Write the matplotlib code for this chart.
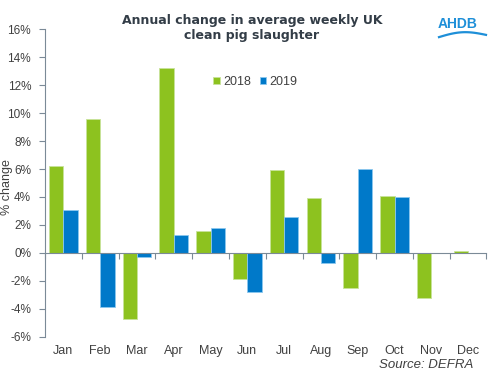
import matplotlib.pyplot as plt
import numpy as np
from matplotlib.transforms import blended_transform_factory

plt.rcParams['font.family'] = ['Liberation Sans', 'DejaVu Sans']

months = ["Jan", "Feb", "Mar", "Apr", "May", "Jun", "Jul", "Aug", "Sep", "Oct", "Nov", "Dec"]
y2018 = [6.2, 9.6, -4.7, 13.2, 1.6, -1.9, 5.9, 3.9, -2.5, 4.1, -3.2, 0.15]
y2019 = [3.1, -3.9, -0.3, 1.3, 1.8, -2.8, 2.6, -0.7, 6.0, 4.0, 0.0, 0.0]
yticks = list(range(-6, 17, 2))

green = "#8dc21f"
blue = "#0079c9"
axis_col = "#7b8a97"
text_col = "#404040"

fig = plt.figure(figsize=(5, 3.75), dpi=100)
ax = fig.add_axes([0.09, 0.102, 0.883, 0.82])

x = np.arange(len(months))
w = 0.39
ax.bar(x - w / 2, y2018, w, color=green, edgecolor="#c8e39a", linewidth=0.6, label="2018", zorder=2)
ax.bar(x + w / 2, y2019, w, color=blue, edgecolor="#8cc8ee", linewidth=0.6, label="2019", zorder=2)

ax.set_xlim(-0.5, len(months) - 0.5)
ax.set_ylim(-6, 16)
ax.set_yticks(yticks)
ax.set_yticklabels(["%d%%" % t for t in yticks])

for s in ["top", "right"]:
    ax.spines[s].set_visible(False)
ax.spines["left"].set_color(axis_col)
ax.spines["bottom"].set_color(axis_col)
ax.spines["bottom"].set_position(("data", 0))
ax.spines["bottom"].set_zorder(3)
ax.set_xticks(np.arange(-0.5, len(months), 1.0))
ax.set_xticklabels([])
ax.tick_params(axis="x", direction="out", length=4, color=axis_col)
ax.tick_params(axis="y", direction="out", length=4, color=axis_col, pad=6,
               labelsize=8.5, labelcolor=text_col)

tr = blended_transform_factory(ax.transData, ax.transAxes)
for i, m in enumerate(months):
    ax.text(i, -0.045, m, transform=tr, ha="center", va="center",
            fontsize=9, color=text_col)

ax.set_ylabel("% change", fontsize=9, color=text_col)
ax.yaxis.set_label_coords(-0.072, 0.487)

fig.text(0.504, 0.925, "Annual change in average weekly UK\nclean pig slaughter",
         ha="center", va="center", fontsize=9, fontweight="bold",
         family="DejaVu Sans", color="#333d47", linespacing=1.25)

ax.legend(loc="upper left", bbox_to_anchor=(0.355, 0.885), ncol=2, frameon=False,
          fontsize=9, handlelength=0.55, handleheight=0.55, handletextpad=0.25,
          columnspacing=0.7, labelcolor=text_col)

# AHDB logo
fig.text(0.915, 0.935, "AHDB", ha="center", va="center", fontsize=10,
         fontweight="bold", color="#1e8fd8")
t = np.linspace(0, 1, 50)
fig.lines.append(plt.Line2D(0.878 + 0.094 * t, 0.905 + 0.010 * np.sin(np.pi * t) - 0.004 + 0.006 * t,
                            transform=fig.transFigure, color="#1e8fd8", lw=1.6))

fig.text(0.946, 0.028, "Source: DEFRA", ha="right", va="center", fontsize=9.5,
         style="italic", color=text_col)

fig.savefig("out.png", dpi=100)
